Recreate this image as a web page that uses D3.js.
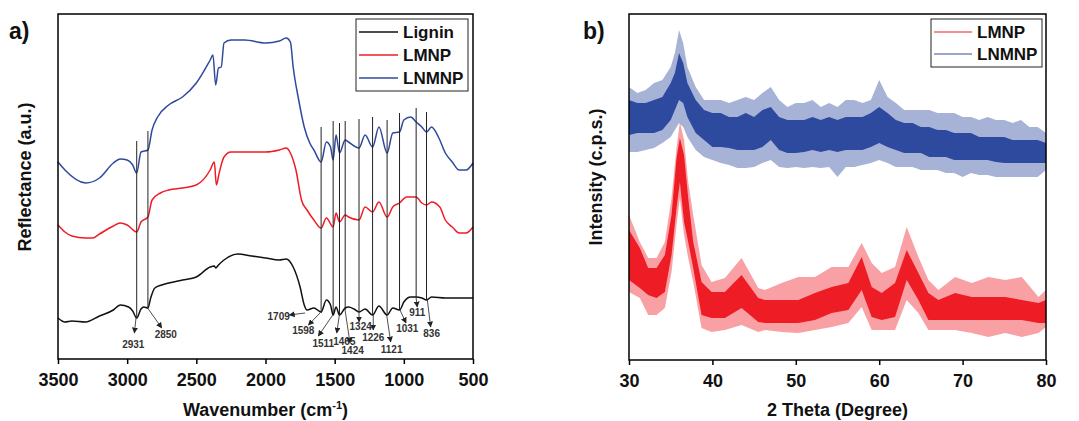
<!DOCTYPE html>
<html>
<head>
<meta charset="utf-8">
<script src="https://cdn.jsdelivr.net/npm/d3@7"></script>
<style>
  body { margin: 0; background: #fff; }
  text { font-family: "Liberation Sans", Arial, sans-serif; font-weight: bold; }
</style>
</head>
<body>
<div id="chart"></div>
<script>
// ---- a) FTIR spectra (reflectance, arbitrary units) ----
const ligninWn = [3500,3450,3400,3300,3200,3100,3050,2990,2960,2931,2900,2880,2850,2830,2800,2750,2700,2600,2500,2400,2370,2360,2340,2300,2200,2100,2000,1900,1850,1800,1750,1720,1700,1650,1598,1560,1530,1511,1490,1465,1424,1400,1360,1324,1280,1226,1180,1121,1080,1031,1000,950,911,870,836,800,700,600,500];
const ligninR = [41,37,38,37,43,49,54,52,48,41,50,52,51,61,71,74,76,79,82,92,93,91,94,99,105,103,101,99,100,92,72,54,49,51,47,59,54,44,52,44,51,52,50,47,50,44,53,44,51,49,57,62,62,61,59,62,61,61,61];

const lmnpWn = [3500,3450,3400,3300,3250,3200,3100,3050,3000,2931,2900,2850,2820,2760,2700,2600,2500,2400,2370,2355,2335,2300,2250,2000,1900,1850,1820,1780,1740,1700,1650,1598,1560,1511,1490,1465,1424,1400,1324,1280,1226,1180,1121,1080,1031,980,911,870,836,800,740,700,650,600,550,500];
const lmnpR = [134,127,123,121,121,125,133,136,134,127,137,142,159,166,169,171,174,189,197,174,186,202,207,207,209,211,206,189,159,149,139,131,141,132,146,137,144,142,139,152,147,157,142,152,156,162,162,156,154,157,152,139,132,126,126,132];

const lnmnpWn = [3500,3450,3300,3200,3100,3050,3000,2960,2931,2900,2850,2820,2780,2700,2600,2500,2400,2380,2360,2340,2320,2300,2250,2150,2000,1900,1850,1820,1800,1760,1720,1680,1650,1598,1560,1530,1511,1490,1465,1424,1400,1324,1280,1226,1180,1121,1080,1031,1000,950,911,870,836,800,750,700,650,600,550,500];
const lnmnpR = [197,189,176,181,196,200,199,194,186,207,209,229,242,254,262,276,299,304,274,291,292,316,319,319,316,318,321,317,292,259,232,216,209,197,217,212,199,224,206,219,217,211,224,212,232,206,226,227,239,242,237,232,227,232,222,206,197,189,189,196];

// marker lines through the three spectra
const peakWn = [2931,2850,1598,1511,1465,1424,1324,1226,1121,1031,911,836];
const peakTop = [218,228,232,238,236,238,240,242,239,246,251,247];
const peakBase = [41,51,46,44,44,49,47,44,44,49,62,59];

// band labels with arrows on the lignin curve
const annotLabels = ["2931","2850","1709","1598","1511","1465","1424","1324","1226","1121","1031","911","836"];
const arrowFromWn = [2936,2852,1714,1606,1514,1466,1425,1324,1221,1124,1028,912,830];
const arrowFromR = [41,51,46,46,44,44,49,47,44,44,49,62,59];
const arrowToWn = [2948,2750,1828,1690,1618,1485,1389,1324,1221,1095,984,903,806];
const arrowToR = [26,31,44,34,23,26,16,37,29,17,36,52,32];
const labelWn = [2956,2721,1905,1727,1582,1430,1370,1312,1221,1088,975,903,799];
const labelR = [15,25,43,29,16,18,9,33,22,10,31,47,26];

const wnTicks = [3500,3000,2500,2000,1500,1000,500];

// ---- b) XRD patterns: per-bin extremes (max/min) and dense band (upper/lower) ----
const lmnpTheta = [30,31.3,32.3,33.3,34.3,35.1,35.7,36.1,36.6,37.1,37.7,38.7,39.9,41.5,43.5,45.5,46.3,48.3,50.3,52.3,54.3,56.3,57.9,59.1,60.3,61.9,63.3,64.7,65.9,67.1,69.1,71.1,73.1,75.1,77.1,79.1,80];
const lmnpMax = [145,118,102,102,118,162,212,238,220,178,145,95,78,82,102,72,70,77,83,83,93,93,117,97,87,93,133,103,80,70,83,77,83,80,83,63,70];
const lmnpUpper = [130,112,92,92,105,145,202,222,205,162,118,78,68,68,85,62,60,60,60,67,73,77,103,73,67,77,110,87,67,60,67,63,63,63,60,57,60];
const lmnpLower = [80,72,65,62,68,105,152,178,138,118,92,45,42,42,52,38,37,37,37,40,47,50,70,43,40,43,80,60,40,40,40,40,40,40,40,37,37];
const lmnpMin = [68,62,45,45,52,88,135,162,125,102,78,32,28,30,35,28,30,28,27,30,33,37,53,30,30,30,60,47,30,30,30,27,23,27,23,27,33];

const lnmnpTheta = [30,31,32,33,34,35,35.5,36,36.5,37,38,39,40,41,42,43,44,45,46,47,48,49,50,51,52,53,54,55,56,57,58,59,60,61,62,63,64,65,66,67,68,69,70,71,72,73,74,75,76,77,78,79,80];
const lnmnpMax = [273,267,270,277,280,293,307,330,317,293,273,260,260,260,257,260,263,260,267,273,260,253,257,257,260,253,257,253,260,260,257,260,280,263,257,250,250,250,250,247,247,247,243,243,240,243,240,240,237,240,233,233,227];
const lnmnpUpper = [260,257,257,260,263,277,287,307,297,277,260,250,247,247,243,243,247,243,250,253,243,240,240,240,243,240,243,240,243,243,243,247,253,247,240,237,237,233,233,230,230,227,227,227,223,223,223,223,220,220,220,220,217];
const lnmnpLower = [225,227,227,227,230,240,250,260,257,243,227,220,213,213,212,210,210,210,213,220,210,207,207,208,210,208,210,208,210,210,210,213,217,213,210,207,207,207,203,203,203,200,200,200,200,200,198,197,197,197,197,197,197];
const lnmnpMin = [208,208,210,212,217,223,230,237,233,223,210,203,200,197,195,192,192,193,197,200,193,192,193,192,193,192,193,183,193,193,195,197,200,197,193,193,193,190,190,190,187,187,183,187,185,185,183,183,183,183,183,183,190];

const thetaTicks = [30,40,50,60,70,80];

const BLACK = "#111", RED = "#ee1c25", BLUE = "#2e4a9e";

const svg = d3.select("#chart").append("svg")
    .attr("width", 1079)
    .attr("height", 421);

svg.append("defs").append("marker")
    .attr("id", "arrow")
    .attr("viewBox", "0 0 10 10")
    .attr("refX", 9).attr("refY", 5)
    .attr("markerWidth", 6).attr("markerHeight", 6)
    .attr("markerUnits", "userSpaceOnUse")
    .attr("orient", "auto")
    .append("path")
    .attr("d", "M0,0 L10,5 L0,10 z")
    .attr("fill", "#222");

// ================= panel a =================
const a = { left: 58, right: 473, top: 14, bottom: 359 };
const xA = d3.scaleLinear().domain([3500, 500]).range([a.left, a.right]);
const yA = d3.scaleLinear().domain([0, 345]).range([a.bottom, a.top]);

const lineA = d3.line()
    .x(d => xA(d[0]))
    .y(d => yA(d[1]))
    .curve(d3.curveMonotoneX);

const spectra = [
    { wn: lnmnpWn, r: lnmnpR, color: BLUE },
    { wn: lmnpWn, r: lmnpR, color: RED },
    { wn: ligninWn, r: ligninR, color: BLACK }
];
spectra.forEach(s => {
    svg.append("path")
        .datum(d3.zip(s.wn, s.r))
        .attr("fill", "none")
        .attr("stroke", s.color)
        .attr("stroke-width", 1.5)
        .attr("d", lineA);
});

// vertical peak lines
svg.append("g").selectAll("line")
    .data(peakWn)
    .enter()
    .append("line")
    .attr("x1", d => xA(d)).attr("x2", d => xA(d))
    .attr("y1", (d, i) => yA(peakTop[i]))
    .attr("y2", (d, i) => yA(peakBase[i]))
    .attr("stroke", "#222")
    .attr("stroke-width", 1);

// arrows + labels
const ann = svg.append("g");
annotLabels.forEach((lab, i) => {
    ann.append("line")
        .attr("x1", xA(arrowFromWn[i])).attr("y1", yA(arrowFromR[i]))
        .attr("x2", xA(arrowToWn[i])).attr("y2", yA(arrowToR[i]))
        .attr("stroke", "#222")
        .attr("stroke-width", 0.8)
        .attr("marker-end", "url(#arrow)");
    ann.append("text")
        .attr("x", xA(labelWn[i]))
        .attr("y", yA(labelR[i]))
        .attr("dy", "0.35em")
        .attr("text-anchor", "middle")
        .attr("font-size", 10)
        .attr("fill", "#333")
        .text(lab);
});

const axA = svg.append("g")
    .attr("transform", `translate(0,${a.bottom})`)
    .call(d3.axisBottom(xA).tickValues(wnTicks).tickSize(5).tickSizeOuter(0).tickPadding(9).tickFormat(d3.format("d")));
axA.select(".domain").remove();
axA.selectAll("line").attr("stroke", "#000").attr("stroke-width", 1.5);
axA.selectAll("text").attr("font-size", 18).attr("fill", "#111")
    .style("font-family", "'Liberation Sans', Arial, sans-serif").style("font-weight", "bold");

svg.append("rect")
    .attr("x", a.left).attr("y", a.top)
    .attr("width", a.right - a.left).attr("height", a.bottom - a.top)
    .attr("fill", "none").attr("stroke", "#000").attr("stroke-width", 1.5);

const xTitleA = svg.append("text")
    .attr("x", (a.left + a.right) / 2).attr("y", 416)
    .attr("text-anchor", "middle").attr("font-size", 18).attr("fill", "#111");
xTitleA.append("tspan").text("Wavenumber (cm");
xTitleA.append("tspan").attr("dy", -7).attr("font-size", 11).text("-1");
xTitleA.append("tspan").attr("dy", 7).text(")");

svg.append("text")
    .attr("transform", "translate(31,177) rotate(-90)")
    .attr("text-anchor", "middle").attr("font-size", 18).attr("fill", "#111")
    .text("Reflectance (a.u.)");

svg.append("text")
    .attr("x", 9).attr("y", 39)
    .attr("font-size", 23).attr("fill", "#111")
    .text("a)");

// legend a
const legA = svg.append("g");
legA.append("rect")
    .attr("x", 356).attr("y", 19).attr("width", 112).attr("height", 72)
    .attr("fill", "#fff").attr("stroke", "#222").attr("stroke-width", 1);
[["Lignin", BLACK], ["LMNP", RED], ["LNMNP", BLUE]].forEach(([name, c], i) => {
    const yy = 32 + i * 23;
    legA.append("line").attr("x1", 359).attr("x2", 398).attr("y1", yy).attr("y2", yy)
        .attr("stroke", c).attr("stroke-width", 1.5);
    legA.append("text").attr("x", 403).attr("y", yy).attr("dy", "0.36em")
        .attr("font-size", 17).attr("fill", "#111").text(name);
});

// ================= panel b =================
const b = { left: 629, right: 1046, top: 14, bottom: 360 };
const xB = d3.scaleLinear().domain([30, 80]).range([b.left, b.right]);
const yB = d3.scaleLinear().domain([0, 346]).range([b.bottom, b.top]);

const band = (lo, hi) => d3.area()
    .x(d => xB(d.t))
    .y0(d => yB(d[lo]))
    .y1(d => yB(d[hi]));

const patterns = [
    { t: lnmnpTheta, max: lnmnpMax, up: lnmnpUpper, low: lnmnpLower, min: lnmnpMin, color: BLUE },
    { t: lmnpTheta, max: lmnpMax, up: lmnpUpper, low: lmnpLower, min: lmnpMin, color: RED }
];
patterns.forEach(p => {
    const rows = p.t.map((t, i) => ({ t, max: p.max[i], up: p.up[i], low: p.low[i], min: p.min[i] }));
    svg.append("path").datum(rows)
        .attr("fill", p.color).attr("fill-opacity", 0.42)
        .attr("d", band("min", "max"));
    svg.append("path").datum(rows)
        .attr("fill", p.color)
        .attr("d", band("low", "up"));
});

const axB = svg.append("g")
    .attr("transform", `translate(0,${b.bottom})`)
    .call(d3.axisBottom(xB).tickValues(thetaTicks).tickSize(5).tickSizeOuter(0).tickPadding(9));
axB.select(".domain").remove();
axB.selectAll("line").attr("stroke", "#000").attr("stroke-width", 1.5);
axB.selectAll("text").attr("font-size", 18).attr("fill", "#111")
    .style("font-family", "'Liberation Sans', Arial, sans-serif").style("font-weight", "bold");

svg.append("rect")
    .attr("x", b.left).attr("y", b.top)
    .attr("width", b.right - b.left).attr("height", b.bottom - b.top)
    .attr("fill", "none").attr("stroke", "#000").attr("stroke-width", 1.5);

svg.append("text")
    .attr("x", (b.left + b.right) / 2).attr("y", 416)
    .attr("text-anchor", "middle").attr("font-size", 18).attr("fill", "#111")
    .text("2 Theta (Degree)");

svg.append("text")
    .attr("transform", "translate(602,177) rotate(-90)")
    .attr("text-anchor", "middle").attr("font-size", 18).attr("fill", "#111")
    .text("Intensity (c.p.s.)");

svg.append("text")
    .attr("x", 583).attr("y", 39)
    .attr("font-size", 23).attr("fill", "#111")
    .text("b)");

// legend b
const legB = svg.append("g");
legB.append("rect")
    .attr("x", 931).attr("y", 19).attr("width", 111).attr("height", 48)
    .attr("fill", "#fff").attr("stroke", "#222").attr("stroke-width", 1);
[["LMNP", RED], ["LNMNP", BLUE]].forEach(([name, c], i) => {
    const yy = 32 + i * 22;
    legB.append("line").attr("x1", 934).attr("x2", 972).attr("y1", yy).attr("y2", yy)
        .attr("stroke", c).attr("stroke-width", 1);
    legB.append("text").attr("x", 977).attr("y", yy).attr("dy", "0.36em")
        .attr("font-size", 17).attr("fill", "#111").text(name);
});
</script>
</body>
</html>
